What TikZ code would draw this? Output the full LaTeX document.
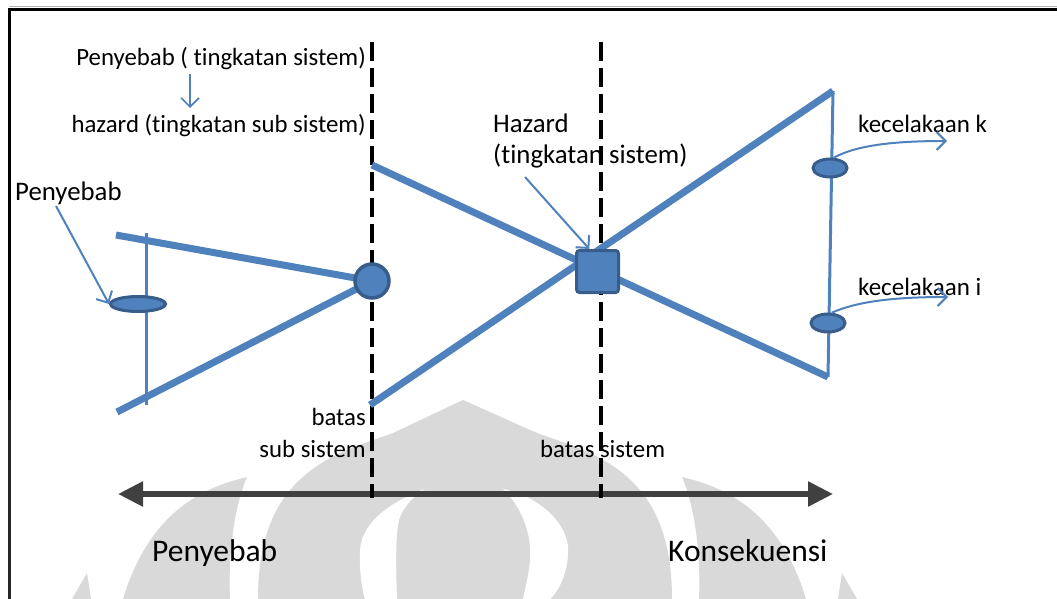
\documentclass[tikz,border=0pt]{standalone}
\usepackage{fontspec}
\setmainfont[Ligatures={NoCommon}]{Carlito}
\usetikzlibrary{arrows.meta,shapes.geometric}
\definecolor{ublue}{HTML}{4F81BD}
\definecolor{dblue}{HTML}{385D8A}
\definecolor{wm}{HTML}{D9D9D9}
\definecolor{axisc}{HTML}{404040}
\pgfdeclarelayer{wmlayer}
\pgfdeclarelayer{lines}
\pgfsetlayers{wmlayer,lines,main}
\begin{document}
\begin{tikzpicture}[x=1pt,y=-1pt,
  thickline/.style={ublue, line width=7pt},
  thinline/.style={ublue, line width=3pt},
  pointer/.style={ublue, line width=2pt, -{Straight Barb[length=9pt,width=18pt]}},
  bound/.style={black, line width=4pt, dash pattern=on 19pt off 7pt},
  axisline/.style={axisc, line width=5.5pt, {Triangle[length=25pt,width=24pt]}-{Triangle[length=25pt,width=24pt]}},
  evt/.style={ellipse, draw=dblue, fill=ublue, line width=3pt, inner sep=0pt},
  lbl/.style={inner sep=0pt, text=black, font=\fontsize{24.8}{28}\selectfont},
  mlbl/.style={inner sep=0pt, text=black, font=\fontsize{26.8}{30}\selectfont},
  klbl/.style={inner sep=0pt, text=black, font=\fontsize{25}{29}\selectfont},
  biglbl/.style={inner sep=0pt, text=black, font=\fontsize{31.5}{36}\selectfont},
]
\useasboundingbox (0,0) rectangle (1057,599);

% watermark
\begin{pgfonlayer}{wmlayer}
\fill[wm] (258,599) .. controls (258,560) and (265,520) .. (290,490)
  .. controls (320,455) and (360,445) .. (393,433) -- (463,400) -- (537,433)
  .. controls (570,445) and (610,455) .. (640,490)
  .. controls (665,520) and (672,560) .. (672,599) -- cycle;
\fill[white] (425,489) .. controls (395,500) and (362,520) .. (360,550)
  .. controls (359,570) and (362,590) .. (365,599) -- (397,599)
  .. controls (396,570) and (395,530) .. (400,517)
  .. controls (405,505) and (415,495) .. (425,489) -- cycle;
\fill[white] (503,489) .. controls (535,495) and (566,520) .. (568,547)
  .. controls (569,570) and (560,590) .. (550,599) -- (523,599)
  .. controls (527,580) and (531,565) .. (530,550)
  .. controls (530,530) and (520,505) .. (503,489) -- cycle;
\fill[wm] (247,477) .. controls (205,487) and (150,510) .. (123,599) -- (230,599)
  .. controls (228,550) and (235,505) .. (247,477) -- cycle;
\fill[wm] (682,477) .. controls (724,487) and (779,510) .. (806,599) -- (699,599)
  .. controls (701,550) and (694,505) .. (682,477) -- cycle;
\fill[wm] (87,573) -- (72,599) -- (91,599) -- cycle;
\fill[wm] (842,573) -- (838,599) -- (857,599) -- cycle;
% frame
\draw[black!30, line width=1pt] (9,6.5) -- (1057,6.5);
\draw[black, line width=3pt] (8.2,9.7) -- (1057,9.7);
\draw[black, line width=3pt] (9.7,8.2) -- (9.7,400);
\draw[black!85, line width=3pt] (9.7,400) -- (9.7,599);
\end{pgfonlayer}

% named points
\coordinate (d1t) at (372,42);  \coordinate (d1b) at (372,498);
\coordinate (d2t) at (601,42);  \coordinate (d2b) at (601,498);
\coordinate (a1) at (116,235);  \coordinate (a2) at (117,412);
\coordinate (v1t) at (146,233); \coordinate (v1b) at (146,405);
\coordinate (A1) at (372,165);  \coordinate (A2) at (828,377);
\coordinate (B1) at (370,405);  \coordinate (B2) at (833,91);
\coordinate (ax1) at (118,494); \coordinate (ax2) at (833,494);
\coordinate (ek) at (947,141);  \coordinate (ei) at (948,297);
\coordinate (s1) at (190,74);   \coordinate (s2) at (190,108);
\coordinate (hs) at (525,177);  \coordinate (ps) at (56,206);

% nodes
\node[circle, draw=dblue, fill=ublue, line width=3.5pt, minimum size=34pt, inner sep=0pt] (hz1) at (372,281) {};
\node[rectangle, rounded corners=3pt, draw=dblue, fill=ublue, line width=3pt, minimum size=42pt, inner sep=0pt] (hz2) at (597.5,271.5) {};
\node[evt, minimum width=55pt, minimum height=15pt] (c1) at (138,304) {};
\node[evt, minimum width=34pt, minimum height=18pt] (ck) at (830,168) {};
\node[evt, minimum width=34pt, minimum height=18pt] (ci) at (828,323) {};

% texts
\node[lbl, anchor=base east] (t1) at (366,66) {Penyebab ( tingkatan sistem)};
\node[lbl, anchor=base east] (t2) at (366,132) {hazard (tingkatan sub sistem)};
\node[mlbl, anchor=base west] (pl) at (15,200) {Penyebab};
\node[mlbl, anchor=base west] (h1) at (493,132) {Hazard};
\node[mlbl, anchor=base west] (h2) at (493,164) {(tingkatan sistem)};
\node[klbl, anchor=base west] (kk) at (858,132) {kecelakaan k};
\node[klbl, anchor=base west] (ki) at (858,295) {kecelakaan i};
\node[lbl, anchor=base east] (b1) at (366,425) {batas};
\node[lbl, anchor=base east] (b2) at (366,457) {sub sistem};
\node[lbl, anchor=base west] (b3) at (540,457) {batas sistem};
\node[biglbl, anchor=base west] (pb) at (152,561) {Penyebab};
\node[biglbl, anchor=base west] (kb) at (668,561) {Konsekuensi};

% connectors
\begin{pgfonlayer}{lines}
\draw[axisline] (ax1) -- (ax2);
\draw[bound] (d1t) -- (d1b);
\draw[bound] (d2t) -- (d2b);
\draw[thinline] (v1t) -- (v1b);
\draw[thickline] (a1) -- (hz1.center);
\draw[thickline] (a2) -- (hz1.center);
\draw[thickline] (A1) -- (A2);
\draw[thickline] (B1) -- (B2);
\draw[thinline] (B2) -- (A2);
\end{pgfonlayer}
\draw[pointer, line width=1.6pt] (s1) -- (s2);
\draw[pointer] (ps) -- (c1.west);
\draw[pointer] (hs) -- (hz2.110);
\draw[pointer] (ck.70) .. controls (855,146) and (890,141) .. (ek);
\draw[pointer] (ci.70) .. controls (856,302) and (891,297) .. (ei);
\end{tikzpicture}
\end{document}
